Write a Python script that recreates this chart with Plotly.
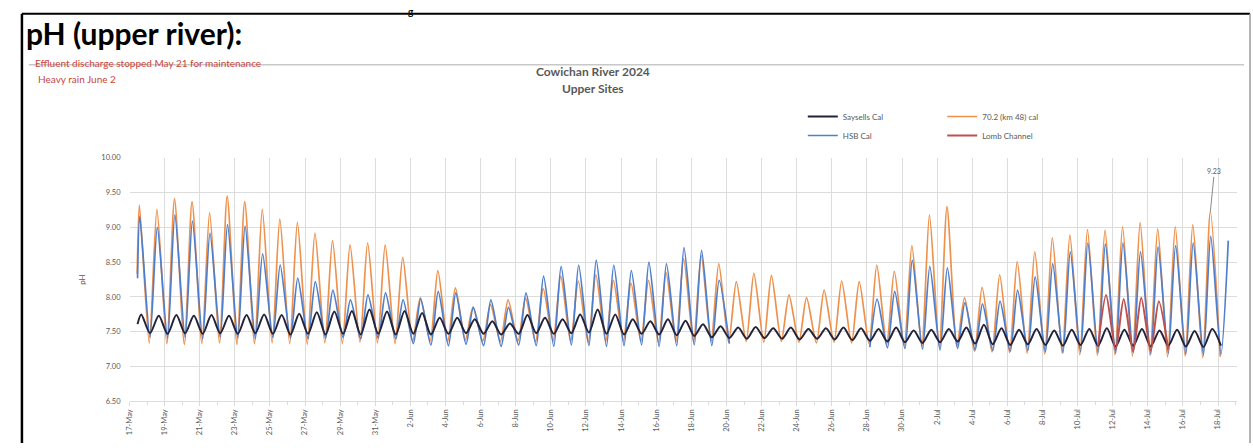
import plotly.graph_objects as go
import pandas as pd

W, H = 1253, 448
START = pd.Timestamp("2024-05-17")

# ---------------- data (day index 0 = 17-May-2024) ----------------
tick_labels = ["17-May", "19-May", "21-May", "23-May", "25-May", "27-May", "29-May", "31-May",
               "2-Jun", "4-Jun", "6-Jun", "8-Jun", "10-Jun", "12-Jun", "14-Jun", "16-Jun",
               "18-Jun", "20-Jun", "22-Jun", "24-Jun", "26-Jun", "28-Jun", "30-Jun",
               "2-Jul", "4-Jul", "6-Jul", "8-Jul", "10-Jul", "12-Jul", "14-Jul", "16-Jul", "18-Jul"]

# 70.2 (km 48) cal  - daily afternoon peaks and early-morning lows
orange_peak = [9.32, 9.26, 9.41, 9.37, 9.21, 9.45, 9.37, 9.26, 9.12, 9.07,
               8.92, 8.81, 8.75, 8.78, 8.75, 8.57, 7.99, 8.38, 8.13, 7.85,
               7.89, 7.96, 7.98, 8.12, 8.30, 8.23, 8.32, 8.24, 8.20, 8.24,
               8.35, 8.55, 8.60, 8.48, 8.22, 8.34, 8.31, 8.03, 7.99, 8.10,
               8.23, 8.22, 8.46, 8.37, 8.74, 9.18, 9.30, 7.99, 8.14, 8.32,
               8.51, 8.65, 8.85, 8.89, 8.97, 8.96, 9.01, 9.07, 8.98, 9.01,
               9.04, 9.23]
orange_low = [8.33, 7.34, 7.33, 7.32, 7.33, 7.34, 7.32, 7.33, 7.34, 7.33,
              7.32, 7.34, 7.33, 7.35, 7.34, 7.33, 7.36, 7.37, 7.36, 7.38,
              7.37, 7.36, 7.37, 7.36, 7.37, 7.36, 7.35, 7.36, 7.37, 7.36,
              7.35, 7.36, 7.35, 7.36, 7.35, 7.36, 7.35, 7.36, 7.35, 7.34,
              7.35, 7.34, 7.33, 7.32, 7.30, 7.29, 7.28, 7.29, 7.22, 7.21,
              7.20, 7.19, 7.18, 7.19, 7.17, 7.16, 7.17, 7.15, 7.16, 7.14,
              7.15, 7.13, 7.14]

# HSB Cal
blue_peak = [9.16, 9.00, 9.18, 9.09, 8.92, 9.04, 9.02, 8.62, 8.46, 8.27,
             8.22, 8.10, 7.96, 8.03, 8.06, 7.96, 7.97, 8.08, 8.06, 7.85,
             7.96, 7.85, 8.06, 8.30, 8.44, 8.46, 8.53, 8.46, 8.38, 8.50,
             8.48, 8.71, 8.67, 8.24, None, None, None, None, None, None,
             None, None, 7.97, 8.08, 8.53, 8.44, 8.42, 7.92, 7.90, 7.94,
             8.10, 8.29, 8.48, 8.65, 8.78, 8.76, 8.78, 8.65, 8.72, 8.74,
             8.78, 8.87, 8.81]
blue_low = [8.27, 7.42, 7.41, 7.42, 7.40, 7.42, 7.41, 7.40, 7.42, 7.41,
            7.40, 7.41, 7.42, 7.40, 7.41, 7.40, 7.33, 7.31, 7.30, 7.32,
            7.30, 7.29, 7.31, 7.30, 7.29, 7.31, 7.30, 7.29, 7.30, 7.31,
            7.29, 7.30, 7.31, 7.30, 7.33, None, None, None, None, None,
            None, None, 7.28, 7.27, 7.26, 7.25, 7.24, 7.26, 7.24, 7.23,
            7.22, 7.23, 7.21, 7.20, 7.21, 7.20, 7.19, 7.20, 7.18, 7.19,
            7.18, 7.17, 7.18]

# Saysells Cal
black_peak = [7.75, 7.73, 7.74, 7.73, 7.74, 7.73, 7.74, 7.75, 7.74, 7.76,
              7.78, 7.79, 7.80, 7.82, 7.79, 7.80, 7.77, 7.70, 7.70, 7.68,
              7.65, 7.62, 7.74, 7.70, 7.68, 7.75, 7.82, 7.75, 7.68, 7.65,
              7.68, 7.66, 7.61, 7.58, 7.56, 7.57, 7.55, 7.56, 7.54, 7.55,
              7.56, 7.55, 7.54, 7.56, 7.52, 7.53, 7.54, 7.56, 7.60, 7.55,
              7.53, 7.54, 7.52, 7.53, 7.54, 7.55, 7.53, 7.54, 7.52, 7.53,
              7.51, 7.54]
black_low = [7.61, 7.48, 7.47, 7.48, 7.47, 7.48, 7.47, 7.48, 7.47, 7.46,
             7.47, 7.46, 7.47, 7.46, 7.47, 7.46, 7.47, 7.46, 7.47, 7.48,
             7.47, 7.46, 7.47, 7.48, 7.47, 7.48, 7.49, 7.47, 7.46, 7.47,
             7.46, 7.45, 7.44, 7.42, 7.41, 7.40, 7.41, 7.40, 7.39, 7.40,
             7.39, 7.38, 7.37, 7.36, 7.35, 7.34, 7.35, 7.36, 7.33, 7.32,
             7.31, 7.32, 7.31, 7.30, 7.31, 7.30, 7.29, 7.30, 7.29, 7.30,
             7.29, 7.28, 7.30]

# Lomb Channel (starts 11-Jul)
red_first_day = 55
red_peak = [8.03, 7.97, 7.99, 7.94]
red_low = [7.30, 7.24, 7.22, 7.23, 7.25]

# ---------------- helpers ----------------
def build(first_day, lows, peaks, low_h, peak_h, start_h=None):
    xs, ys = [], []
    for i, lo in enumerate(lows):
        h = start_h if (i == 0 and start_h is not None) else low_h
        xs.append(START + pd.Timedelta(days=first_day + i, hours=h))
        ys.append(lo)
        if i < len(peaks):
            xs.append(START + pd.Timedelta(days=first_day + i, hours=peak_h))
            ys.append(peaks[i])
    return xs, ys

def px(x):
    return x / W

def py(y):
    return 1 - y / H

ox, oy = build(0, orange_low, orange_peak, 3, 13.5, start_h=10.5)
bx, by = build(0, blue_low, blue_peak, 4, 14, start_h=11)
kx, ky = build(0, black_low, black_peak, 4, 16, start_h=11)
rx, ry = build(red_first_day, red_low, red_peak, 4, 15)

ORANGE = "#EE914C"
BLUE = "#4F7FCC"
BLACK = "#23233A"
RED = "#C0504D"
GREY_TXT = "#595959"
GRID = "#DCDCDC"
FONT = "Lato"

fig = go.Figure()
fig.add_trace(go.Scatter(x=ox, y=oy, mode="lines", name="70.2 (km 48) cal",
                         line=dict(color=ORANGE, width=1.7, shape="spline", smoothing=0.7),
                         legend="legend2", legendrank=1))
fig.add_trace(go.Scatter(x=bx, y=by, mode="lines", name="HSB Cal",
                         line=dict(color=BLUE, width=1.7, shape="spline", smoothing=0.7),
                         legend="legend", legendrank=2))
fig.add_trace(go.Scatter(x=kx, y=ky, mode="lines", name="Saysells Cal",
                         line=dict(color=BLACK, width=2.0, shape="spline", smoothing=0.8),
                         legend="legend", legendrank=1))
fig.add_trace(go.Scatter(x=rx, y=ry, mode="lines", name="Lomb Channel",
                         line=dict(color=RED, width=2.0, shape="spline", smoothing=0.7),
                         legend="legend2", legendrank=2))

tick_vals = [pd.to_datetime(t + "-2024", format="%d-%b-%Y") for t in tick_labels]

fig.update_layout(
    width=W, height=H,
    margin=dict(l=0, r=0, t=0, b=0),
    paper_bgcolor="white", plot_bgcolor="white",
    font=dict(family=FONT, color=GREY_TXT, size=8),
    xaxis=dict(
        domain=[px(125), px(1237)],
        range=[START, START + pd.Timedelta(days=63, hours=2)],
        tickmode="array", tickvals=tick_vals, ticktext=tick_labels,
        tickangle=-90, tickfont=dict(size=7.5, color=GREY_TXT),
        showgrid=True, gridcolor=GRID, gridwidth=1,
        showline=True, linecolor=GRID, linewidth=1,
        ticks="outside", ticklen=4, tickcolor=GRID,
        minor=dict(tickmode="linear", tick0="2024-05-18", dtick=86400000,
                   ticks="outside", ticklen=3, tickcolor=GRID, showgrid=False),
        zeroline=False,
    ),
    yaxis=dict(
        domain=[py(405.5), py(157)],
        range=[6.5, 10.0], dtick=0.5, tick0=6.5, tickformat=".2f",
        tickfont=dict(size=7.5, color=GREY_TXT),
        showgrid=True, gridcolor=GRID, gridwidth=1,
        showline=False, zeroline=False, ticks="", ticklabelstandoff=8,
        title=dict(text="pH", font=dict(size=8, color=GREY_TXT), standoff=14),
    ),
    legend=dict(x=px(801), y=py(100), xanchor="left", yanchor="top",
                font=dict(size=8, color=GREY_TXT), bgcolor="rgba(0,0,0,0)",
                tracegroupgap=0, itemwidth=30),
    legend2=dict(x=px(941), y=py(100), xanchor="left", yanchor="top",
                 font=dict(size=8, color=GREY_TXT), bgcolor="rgba(0,0,0,0)",
                 tracegroupgap=0, itemwidth=30),
    showlegend=True,
)

# document frame and rule
shapes = [
    dict(type="line", xref="paper", yref="paper", x0=px(17), x1=px(1250), y0=py(10), y1=py(10),
         line=dict(color="black", width=2)),
    dict(type="line", xref="paper", yref="paper", x0=px(17), x1=px(17), y0=py(10), y1=0,
         line=dict(color="black", width=2.5)),
    dict(type="line", xref="paper", yref="paper", x0=px(1250), x1=px(1250), y0=py(10), y1=0,
         line=dict(color="#9a9a9a", width=1.5)),
    dict(type="line", xref="paper", yref="paper", x0=px(24), x1=px(1244), y0=py(62), y1=py(62),
         line=dict(color="#C8C8C8", width=1.5)),
]
fig.update_layout(shapes=shapes)

annotations = [
    dict(text="<b>pH (upper river):</b>", xref="paper", yref="paper", x=px(19), y=py(30),
         xanchor="left", yanchor="middle", showarrow=False,
         font=dict(family=FONT, size=30, color="black")),
    dict(text="<b>g</b>", xref="paper", yref="paper", x=px(404), y=1,
         xanchor="left", yanchor="top", showarrow=False, borderpad=0,
         font=dict(family=FONT, size=10, color="black")),
    dict(text="Effluent discharge stopped May 21 for maintenance", xref="paper", yref="paper",
         x=px(28), y=py(60), xanchor="left", yanchor="middle", showarrow=False,
         font=dict(family=FONT, size=10, color="#C8463C")),
    dict(text="Heavy rain June 2", xref="paper", yref="paper",
         x=px(31), y=py(77), xanchor="left", yanchor="middle", showarrow=False,
         font=dict(family=FONT, size=10, color="#C8463C")),
    dict(text="<b>Cowichan River 2024</b>", xref="paper", yref="paper",
         x=px(590), y=py(69), xanchor="center", yanchor="middle", showarrow=False,
         font=dict(family=FONT, size=12, color=GREY_TXT)),
    dict(text="<b>Upper Sites</b>", xref="paper", yref="paper",
         x=px(590), y=py(86), xanchor="center", yanchor="middle", showarrow=False,
         font=dict(family=FONT, size=12, color=GREY_TXT)),
    dict(text="9.23", x=START + pd.Timedelta(days=61, hours=13.5), y=orange_peak[61],
         xref="x", yref="y", showarrow=True, arrowhead=0, arrowwidth=1, arrowcolor="#8a8a8a",
         ax=4, ay=-40, font=dict(family=FONT, size=7, color=GREY_TXT)),
]
fig.update_layout(annotations=annotations)

fig.write_html(
    "out.html",
    config={"displayModeBar": False},
    post_script="document.body.style.margin='0px';document.body.style.overflow='hidden';",
)
